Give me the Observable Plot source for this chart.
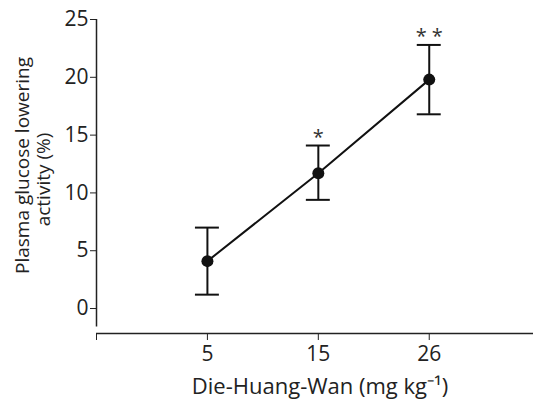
<!DOCTYPE html>
<html>
<head>
<meta charset="utf-8">
<script src="https://cdn.jsdelivr.net/npm/d3@7"></script>
<script src="https://cdn.jsdelivr.net/npm/@observablehq/plot@0.6"></script>
<style>
  html, body { margin: 0; padding: 0; background: #fff; }
  svg { font-family: "Open Sans", sans-serif; }
</style>
</head>
<body>
<div id="chart"></div>
<script>
const doses = ["5", "15", "26"];
const means = [4.1, 11.7, 19.8];
const errHigh = [7.0, 14.1, 22.8];
const errLow = [1.2, 9.4, 16.8];
const sig = ["", "*", "* *"];
const yTicks = [0, 5, 10, 15, 20, 25];
const yLabelLines = ["Plasma glucose lowering", "activity (%)"];
const xLabel = "Die-Huang-Wan (mg kg⁻¹)";

const data = doses.map((d, i) => ({
  i: i + 1, dose: d, mean: means[i], hi: errHigh[i], lo: errLow[i], sig: sig[i]
}));

const yMin = -2.16, yAxisBottom = -1.6;
const cap = 0.108;

const chart = Plot.plot({
  width: 533,
  height: 400,
  marginLeft: 96,
  marginRight: 0,
  marginTop: 19,
  marginBottom: 67,
  style: { fontFamily: "Open Sans, sans-serif", fontSize: "21px", color: "#222", background: "#fff" },
  x: { domain: [0, 3.94], axis: null },
  y: { domain: [yMin, 25], axis: null },
  marks: [
    Plot.axisY({ ticks: yTicks, tickSize: 6, tickPadding: 2, label: null, fontSize: 21, stroke: "#222" }),
    Plot.axisX({ ticks: [0, 1, 2, 3], tickFormat: t => t === 0 ? "" : doses[t - 1], tickSize: 7, tickPadding: 6, label: null, fontSize: 21, stroke: "#222" }),
    Plot.ruleX([0], { y1: yAxisBottom, y2: 25, stroke: "#222", strokeWidth: 1.5 }),
    Plot.ruleY([yMin], { stroke: "#222", strokeWidth: 1.5 }),
    Plot.ruleX(data, { x: "i", y1: "lo", y2: "hi", stroke: "#111", strokeWidth: 2 }),
    Plot.ruleY(data, { y: "hi", x1: d => d.i - cap, x2: d => d.i + cap, stroke: "#111", strokeWidth: 2 }),
    Plot.ruleY(data, { y: "lo", x1: d => d.i - cap, x2: d => d.i + cap, stroke: "#111", strokeWidth: 2 }),
    Plot.line(data, { x: "i", y: "mean", stroke: "#111", strokeWidth: 2 }),
    Plot.dot(data, { x: "i", y: "mean", r: 6, fill: "#111", stroke: "none" }),
    Plot.text(data, { x: "i", y: "hi", text: "sig", dy: -8, fontSize: 20, fill: "#333" }),
    Plot.text([yLabelLines[0]], {
      frameAnchor: "left", textAnchor: "middle", lineAnchor: "middle", text: d => d, rotate: -90, dx: -74, dy: -11,
      fontSize: 19, fill: "#222"
    }),
    Plot.text([yLabelLines[1]], {
      frameAnchor: "left", textAnchor: "middle", lineAnchor: "middle", text: d => d, rotate: -90, dx: -53, dy: 3,
      fontSize: 19, fill: "#222"
    }),
    Plot.text([xLabel], {
      frameAnchor: "bottom", textAnchor: "middle", lineAnchor: "middle", text: d => d, dy: 53, dx: 5, fontSize: 22, fill: "#222"
    })
  ]
});
document.getElementById("chart").appendChild(chart);
</script>
</body>
</html>
